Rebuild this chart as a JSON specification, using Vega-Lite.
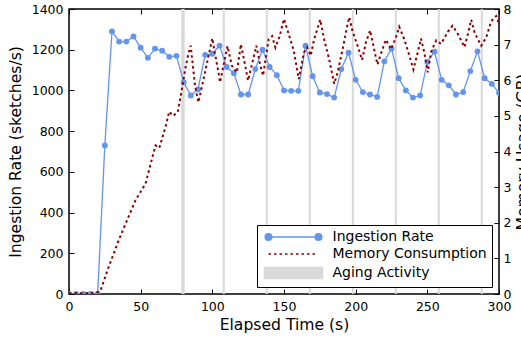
{
  "$schema": "https://vega.github.io/schema/vega-lite/v6.json",
  "width": 430,
  "height": 285,
  "autosize": {"type": "none"},
  "padding": {"left": 69, "top": 9, "right": 22, "bottom": 45},
  "config": {
    "font": "DejaVu Sans",
    "view": {"stroke": "#000", "strokeWidth": 1.5},
    "axis": {
      "domain": false,
      "grid": false,
      "labelFont": "DejaVu Sans",
      "labelFontSize": 12.5,
      "labelColor": "#000",
      "labelFlush": false,
      "labelOverlap": false,
      "format": "d",
      "tickColor": "#000",
      "tickSize": -5,
      "tickWidth": 1,
      "titleFont": "DejaVu Sans",
      "titleFontSize": 15.6,
      "titleFontWeight": "normal",
      "titleColor": "#000"
    },
    "legend": {
      "title": null,
      "orient": "bottom-right",
      "offset": 7,
      "padding": 5,
      "strokeColor": "#000",
      "fillColor": "#fff",
      "cornerRadius": 0,
      "labelFont": "DejaVu Sans",
      "labelFontSize": 14,
      "labelColor": "#000",
      "symbolSize": 100,
      "symbolOffset": 24.5,
      "symbolOpacity": 1,
      "symbolStrokeWidth": 1.6,
      "labelOffset": 32,
      "rowPadding": 3
    }
  },
  "datasets": {
    "aging": [
      {"start": 78.3, "end": 80.7},
      {"start": 107.3, "end": 108.7},
      {"start": 137.3, "end": 138.7},
      {"start": 167.3, "end": 168.7},
      {"start": 197.3, "end": 198.7},
      {"start": 227.3, "end": 228.7},
      {"start": 257.3, "end": 258.7},
      {"start": 287.3, "end": 288.7}
    ],
    "ingest": [
      {"t": 0, "rate": 0}, {"t": 5, "rate": 0}, {"t": 10, "rate": 0}, {"t": 15, "rate": 0}, {"t": 20, "rate": 0},
      {"t": 25, "rate": 730}, {"t": 30, "rate": 1290}, {"t": 35, "rate": 1240}, {"t": 40, "rate": 1240},
      {"t": 45, "rate": 1265}, {"t": 50, "rate": 1210}, {"t": 55, "rate": 1160}, {"t": 60, "rate": 1205},
      {"t": 65, "rate": 1195}, {"t": 70, "rate": 1165}, {"t": 75, "rate": 1170}, {"t": 80, "rate": 1040},
      {"t": 85, "rate": 975}, {"t": 90, "rate": 1005}, {"t": 95, "rate": 1175}, {"t": 100, "rate": 1180},
      {"t": 105, "rate": 1220}, {"t": 110, "rate": 1115}, {"t": 115, "rate": 1085}, {"t": 120, "rate": 980},
      {"t": 125, "rate": 980}, {"t": 130, "rate": 1105}, {"t": 135, "rate": 1200}, {"t": 140, "rate": 1115},
      {"t": 145, "rate": 1075}, {"t": 150, "rate": 1000}, {"t": 155, "rate": 998}, {"t": 160, "rate": 998},
      {"t": 165, "rate": 1220}, {"t": 170, "rate": 1070}, {"t": 175, "rate": 990}, {"t": 180, "rate": 982},
      {"t": 185, "rate": 965}, {"t": 190, "rate": 1105}, {"t": 195, "rate": 1185}, {"t": 200, "rate": 1052},
      {"t": 205, "rate": 992}, {"t": 210, "rate": 980}, {"t": 215, "rate": 968}, {"t": 220, "rate": 1143},
      {"t": 225, "rate": 1205}, {"t": 230, "rate": 1060}, {"t": 235, "rate": 1000}, {"t": 240, "rate": 965},
      {"t": 245, "rate": 975}, {"t": 250, "rate": 1140}, {"t": 255, "rate": 1190}, {"t": 260, "rate": 1052},
      {"t": 265, "rate": 1025}, {"t": 270, "rate": 980}, {"t": 275, "rate": 992}, {"t": 280, "rate": 1095},
      {"t": 285, "rate": 1192}, {"t": 290, "rate": 1060}, {"t": 295, "rate": 1032}, {"t": 300, "rate": 988}
    ],
    "memory": [
      {"t": 0, "gb": 0.02}, {"t": 5, "gb": 0.02}, {"t": 10, "gb": 0.02}, {"t": 15, "gb": 0.03}, {"t": 20, "gb": 0.05},
      {"t": 22, "gb": 0.1}, {"t": 27.7, "gb": 0.76}, {"t": 34.7, "gb": 1.51}, {"t": 40.5, "gb": 2.07},
      {"t": 46.4, "gb": 2.63}, {"t": 53.4, "gb": 3.1}, {"t": 57, "gb": 3.66}, {"t": 60.4, "gb": 4.17},
      {"t": 63, "gb": 4.1}, {"t": 67.4, "gb": 4.7}, {"t": 69.9, "gb": 5.12}, {"t": 72.6, "gb": 5.0},
      {"t": 75.8, "gb": 5.1}, {"t": 78.6, "gb": 5.7}, {"t": 80.9, "gb": 6.27}, {"t": 83.2, "gb": 6.73},
      {"t": 84.9, "gb": 6.97}, {"t": 86.3, "gb": 6.45}, {"t": 87.9, "gb": 5.85}, {"t": 90.3, "gb": 5.38},
      {"t": 92.6, "gb": 5.8}, {"t": 96.1, "gb": 6.45}, {"t": 100, "gb": 7.18}, {"t": 101.9, "gb": 6.73},
      {"t": 104.3, "gb": 6.22}, {"t": 105.4, "gb": 5.94}, {"t": 108.9, "gb": 6.64}, {"t": 110.6, "gb": 6.96},
      {"t": 113.6, "gb": 6.41}, {"t": 117.1, "gb": 6.22}, {"t": 119.9, "gb": 7.01}, {"t": 122.5, "gb": 6.5},
      {"t": 124.9, "gb": 5.99}, {"t": 128.8, "gb": 6.64}, {"t": 130.7, "gb": 6.97}, {"t": 133.5, "gb": 6.41},
      {"t": 135.4, "gb": 6.13}, {"t": 139.3, "gb": 7.15}, {"t": 141.7, "gb": 7.24}, {"t": 144, "gb": 6.92},
      {"t": 147, "gb": 7.24}, {"t": 150, "gb": 7.72}, {"t": 153.3, "gb": 7.29}, {"t": 156.8, "gb": 6.83},
      {"t": 160.3, "gb": 6.03}, {"t": 163.9, "gb": 6.78}, {"t": 166.2, "gb": 6.92}, {"t": 168.6, "gb": 6.69},
      {"t": 171, "gb": 7.15}, {"t": 175.3, "gb": 7.7}, {"t": 178, "gb": 7.15}, {"t": 181.5, "gb": 6.59},
      {"t": 185, "gb": 5.9}, {"t": 187.4, "gb": 6.22}, {"t": 190.9, "gb": 6.87}, {"t": 193.9, "gb": 7.48},
      {"t": 195.5, "gb": 7.77}, {"t": 197.8, "gb": 7.38}, {"t": 201.3, "gb": 6.97}, {"t": 204.5, "gb": 6.57},
      {"t": 207.1, "gb": 7.06}, {"t": 210.1, "gb": 7.4}, {"t": 212.9, "gb": 6.87}, {"t": 215.2, "gb": 6.44},
      {"t": 218.7, "gb": 6.87}, {"t": 221.1, "gb": 7.14}, {"t": 224.6, "gb": 6.87}, {"t": 228.1, "gb": 7.2},
      {"t": 230.4, "gb": 7.5}, {"t": 233.9, "gb": 7.15}, {"t": 237.4, "gb": 6.7}, {"t": 240.3, "gb": 6.3},
      {"t": 243.3, "gb": 6.78}, {"t": 245.6, "gb": 7.17}, {"t": 248, "gb": 6.76}, {"t": 250.3, "gb": 6.22},
      {"t": 252.7, "gb": 6.8}, {"t": 256.2, "gb": 7.12}, {"t": 259.6, "gb": 7.02}, {"t": 264.3, "gb": 7.36},
      {"t": 267.6, "gb": 7.53}, {"t": 271.3, "gb": 7.3}, {"t": 274.3, "gb": 7.06}, {"t": 275.9, "gb": 6.93},
      {"t": 278.3, "gb": 7.3}, {"t": 280.6, "gb": 7.7}, {"t": 283, "gb": 7.33}, {"t": 287.6, "gb": 6.97},
      {"t": 291.1, "gb": 7.2}, {"t": 294.6, "gb": 7.66}, {"t": 298, "gb": 7.8}, {"t": 300, "gb": 7.6}
    ]
  },
  "resolve": {"scale": {"y": "independent"}, "axis": {"x": "independent", "y": "independent"}},
  "layer": [
    {
      "data": {"name": "aging"},
      "mark": {"type": "rect", "opacity": 1},
      "encoding": {
        "x": {
          "field": "start", "type": "quantitative",
          "scale": {"domain": [0, 300], "nice": false, "zero": false},
          "axis": {"orient": "bottom", "values": [0, 50, 100, 150, 200, 250, 300], "labelPadding": 11, "title": "Elapsed Time (s)", "titlePadding": 5}
        },
        "x2": {"field": "end"},
        "color": {
          "datum": "Aging Activity", "type": "nominal",
          "scale": {"domain": ["Ingestion Rate", "Memory Consumption", "Aging Activity"], "range": ["#6495ED", "#8B0000", "#D9D9D9"]}
        }
      }
    },
    {
      "data": {"name": "ingest"},
      "mark": {"type": "line", "strokeWidth": 1.3, "clip": true, "point": {"filled": true, "size": 34, "opacity": 1}},
      "encoding": {
        "x": {"field": "t", "type": "quantitative", "scale": {"domain": [0, 300], "nice": false, "zero": false},
          "axis": {"orient": "top", "labels": false, "title": null, "values": [0, 50, 100, 150, 200, 250, 300]}},
        "y": {"field": "rate", "type": "quantitative", "scale": {"domain": [0, 1400], "nice": false},
          "axis": {"orient": "left", "values": [0, 200, 400, 600, 800, 1000, 1200, 1400], "labelPadding": 11, "title": "Ingestion Rate (sketches/s)", "titlePadding": 8}},
        "color": {"datum": "Ingestion Rate", "type": "nominal"}
      }
    },
    {
      "data": {"name": "memory"},
      "mark": {"type": "line", "strokeWidth": 2, "strokeDash": [2.5, 3], "clip": true},
      "encoding": {
        "x": {"field": "t", "type": "quantitative", "scale": {"domain": [0, 300], "nice": false, "zero": false}, "axis": null},
        "y": {"field": "gb", "type": "quantitative", "scale": {"domain": [0, 8], "nice": false},
          "axis": {"orient": "right", "values": [0, 1, 2, 3, 4, 5, 6, 7, 8], "labelPadding": 9, "title": "Memory Usage (GB)", "titleAngle": 270, "titlePadding": 20}},
        "color": {"datum": "Memory Consumption", "type": "nominal"}
      }
    },
    {
      "data": {"name": "ingest"},
      "mark": {"type": "point", "opacity": 0, "clip": true},
      "encoding": {
        "x": {"field": "t", "type": "quantitative", "scale": {"domain": [0, 300], "nice": false, "zero": false}, "axis": null},
        "y": {"field": "rate", "type": "quantitative", "scale": {"domain": [0, 1400], "nice": false}, "axis": null},
        "shape": {
          "datum": "Ingestion Rate", "type": "nominal",
          "scale": {"domain": ["Ingestion Rate", "Memory Consumption", "Aging Activity"], "range": ["M-5,0H5M-5.65,0a0.65,0.65 0 1,0 1.3,0a0.65,0.65 0 1,0 -1.3,0M4.35,0a0.65,0.65 0 1,0 1.3,0a0.65,0.65 0 1,0 -1.3,0", "M-5,0H-4.5M-3.9,0H-3.4M-2.8,0H-2.3M-1.7,0H-1.2M-0.6,0H-0.1M0.5,0H1M1.6,0H2.1M2.7,0H3.2M3.8,0H4.3", "M-5.8,-1.1H5.8V1.1H-5.8Z"]}
        }
      }
    }
  ]
}
